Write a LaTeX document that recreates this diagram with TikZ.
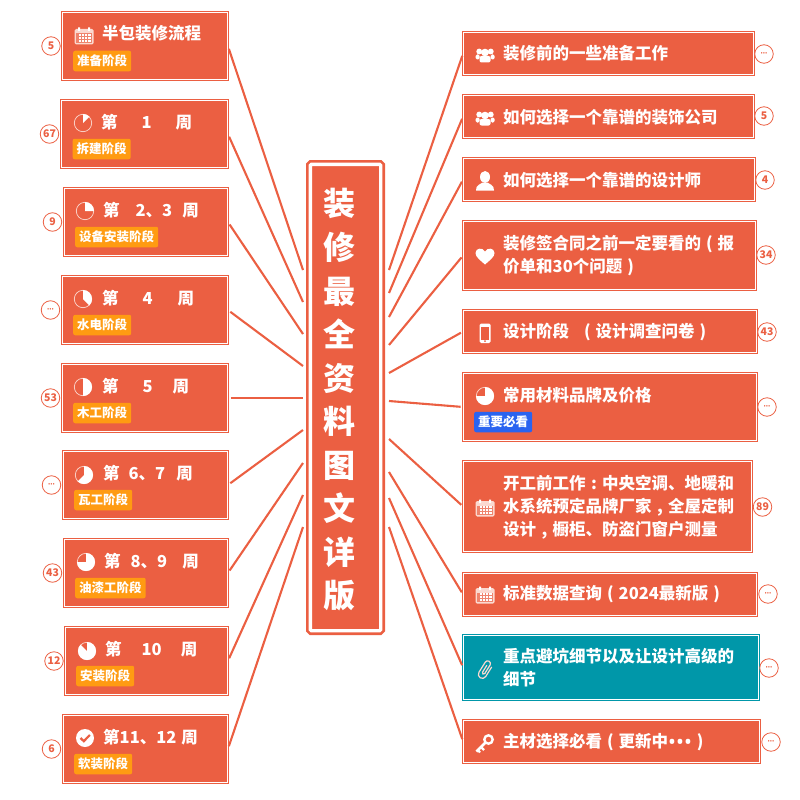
\documentclass[tikz,border=0pt]{standalone}
\usepackage{fontspec}
\setmainfont{Noto Sans CJK SC}
\newfontfamily\latfont{Noto Sans}
\usetikzlibrary{positioning}
\definecolor{boxred}{HTML}{EB5F42}
\definecolor{boxteal}{HTML}{0097A9}
\definecolor{tagorange}{HTML}{FF9B12}
\definecolor{tagblue}{HTML}{2A63F0}
\definecolor{iconpink}{HTML}{FBD9D0}
\newcommand{\fl}{\makebox[16.5pt]{(}}
\newcommand{\fr}{\makebox[16.5pt]{)}}
\newcommand{\fc}{\makebox[16.5pt]{,}}
\newcommand{\fm}{\makebox[16.5pt]{:}}
\newcommand{\more}{{\fontsize{6}{6}\selectfont\latfont •••}}
\tikzset{
  topic/.style 2 args={draw=boxred, double=white, double distance=1pt, line width=.6pt, fill=boxred,
    inner sep=0pt, outer sep=0pt, minimum width=#1pt-2.2pt, minimum height=#2pt-2.2pt},
  tealtopic/.style 2 args={topic={#1}{#2}, draw=boxteal, fill=boxteal},
  hub/.style={draw=boxred, double=white, double distance=3.3pt, line width=2.7pt, fill=boxred,
    rounded corners=1pt, inner sep=0pt, outer sep=0pt, minimum width=70.3pt, minimum height=466.3pt},
  hubtext/.style={inner sep=0pt, text=white, align=center, font=\fontsize{32}{43.55}\selectfont\bfseries},
  title/.style={anchor=west, inner sep=0pt, text=white, align=left,
    font=\fontsize{16.5}{23}\selectfont\bfseries},
  tag/.style={fill=tagorange, rounded corners=2pt, inner sep=0pt, minimum height=20.5pt, minimum width=58pt,
    anchor=west, text=white, font=\fontsize{12.5}{14}\selectfont\bfseries},
  badge/.style={circle, draw=boxred, fill=white, line width=.8pt, inner sep=0pt, minimum size=18.5pt,
    text=boxred, font=\fontsize{10.5}{11}\selectfont\bfseries},
  link/.style={draw=boxred, line width=2.1pt},
  pieicon/.pic={
    \begin{scope}[y=1pt]
      \draw[iconpink, line width=.7pt] (0,0) circle[radius=8.7pt];
      \fill[white] (0,0) -- (0,9) arc[start angle=90, delta angle=-#1, radius=9pt] -- cycle;
    \end{scope}},
  calicon/.pic={
    \begin{scope}[y=1pt]
      \fill[iconpink, rounded corners=1.5pt] (-9.5,-8.5) rectangle (9.5,7);
      \fill[boxred!70!iconpink] (-8,-7) rectangle (8,2.5);
      \foreach \cx in {-5.5,-2.2,1.1,4.4}
        \foreach \cy in {-6,-3,0}
          \fill[white] (\cx,\cy) rectangle +(2.2,2);
      \fill[white] (-6,5) rectangle (-4,8.5) (4,5) rectangle (6,8.5);
    \end{scope}},
  usersicon/.pic={
    \begin{scope}[y=1pt]
      \fill[white] (0,2.5) circle[radius=3.8pt] (-5.8,3.5) circle[radius=2.9pt] (5.8,3.5) circle[radius=2.9pt];
      \fill[white, rounded corners=2pt] (-5.5,-7.5) rectangle (5.5,-1);
      \fill[white, rounded corners=1.5pt] (-9.5,-4.5) rectangle (-5.5,.5) (5.5,-4.5) rectangle (9.5,.5);
    \end{scope}},
  personicon/.pic={
    \begin{scope}[y=1pt]
      \fill[white] (0,4) ellipse[x radius=5pt, y radius=6pt];
      \fill[white] (-9,-9.5) .. controls (-9.5,-4) and (-4,-3) .. (-2.5,-1.5) -- (2.5,-1.5)
        .. controls (4,-3) and (9.5,-4) .. (9,-9.5) -- cycle;
    \end{scope}},
  hearticon/.pic={
    \begin{scope}[y=1pt]
      \fill[white] (0,-8.5) .. controls (-5,-4) and (-9.5,-1) .. (-9.5,3)
        .. controls (-9.5,8) and (-2.5,9) .. (0,4.5)
        .. controls (2.5,9) and (9.5,8) .. (9.5,3)
        .. controls (9.5,-1) and (5,-4) .. (0,-8.5) -- cycle;
    \end{scope}},
  phoneicon/.pic={
    \begin{scope}[y=1pt]
      \fill[white, rounded corners=1.5pt] (-5.5,-10) rectangle (5.5,9.5);
      \fill[boxred] (-3.8,-6.5) rectangle (3.8,6.5);
      \fill[boxred] (0,-8.2) circle[radius=1pt];
    \end{scope}},
  clipicon/.pic={
    \begin{scope}[y=1pt, rotate=-32]
      \draw[iconpink, line width=1.2pt, line cap=round] (2.2,-4) -- (2.2,6) arc[start angle=0, end angle=180, radius=2.8pt]
        -- (-3.4,-6) arc[start angle=180, end angle=360, radius=4pt] -- (4.6,5);
      \draw[iconpink, line width=1.2pt, line cap=round] (2.2,-4) arc[start angle=0, end angle=-180, radius=1.3pt] -- (-.4,4);
    \end{scope}},
  keyicon/.pic={
    \begin{scope}[y=1pt]
      \draw[white, line width=2.4pt] (3.5,3.5) circle[radius=4.2pt];
      \draw[white, line width=2.6pt] (.5,.5) -- (-8.5,-8.5);
      \draw[white, line width=2.2pt] (-4,-4) -- (-1,-7) (-7,-7) -- (-5,-9.5);
    \end{scope}},
  checkicon/.pic={
    \begin{scope}[y=1pt]
      \fill[white] (0,0) circle[radius=9pt];
      \draw[boxred, line width=2.2pt] (-4.5,0) -- (-1.2,-3.2) -- (4.8,3);
    \end{scope}}
}
\begin{document}
\begin{tikzpicture}[x=1pt, y=-1pt]
  \useasboundingbox (0,0) rectangle (800,800);
  \node[hub] (hub) at (345.5,397.5) {};
  \node[hubtext] (hubtitle) at (339.5,400) {装\\修\\最\\全\\资\\料\\图\\文\\详\\版};

  % left side
  \node[topic={168}{70}] (lbox1) at (145,46) {};
  \node[topic={169}{70}] (lbox2) at (144.5,134) {};
  \node[topic={166}{70}] (lbox3) at (146,222) {};
  \node[topic={168}{70}] (lbox4) at (145,310) {};
  \node[topic={168}{70}] (lbox5) at (145,398) {};
  \node[topic={167}{70}] (lbox6) at (145.5,485) {};
  \node[topic={166}{70}] (lbox7) at (146,573) {};
  \node[topic={165}{70}] (lbox8) at (146.5,661) {};
  \node[topic={167}{70}] (lbox9) at (145.5,749) {};

  \node[title] (ltitle1) at (102,33.5) {半包装修流程};
  \node[title] (ltitle2) at (101,122.5) {第\hspace{24pt}1\hspace{24pt}周};
  \node[title] (ltitle3) at (103,210.5) {第\hspace{16pt}2、3\hspace{10pt}周};
  \node[title] (ltitle4) at (102,298.5) {第\hspace{24pt}4\hspace{25pt}周};
  \node[title] (ltitle5) at (102,386.5) {第\hspace{24pt}5\hspace{20pt}周};
  \node[title] (ltitle6) at (103,473.5) {第\hspace{9pt}6、7\hspace{11pt}周};
  \node[title] (ltitle7) at (104,561.5) {第\hspace{10pt}8、9\hspace{15pt}周};
  \node[title] (ltitle8) at (105,649.5) {第\hspace{20pt}10\hspace{19pt}周};
  \node[title] (ltitle9) at (103,737.5) {第11、12\hspace{5pt}周};

  \node[tag] (ltag1) at (73,61) {准备阶段};
  \node[tag] (ltag2) at (72.5,149) {拆建阶段};
  \node[tag, minimum width=83pt] (ltag3) at (75,237) {设备安装阶段};
  \node[tag] (ltag4) at (73,325) {水电阶段};
  \node[tag] (ltag5) at (73,413) {木工阶段};
  \node[tag] (ltag6) at (74,500) {瓦工阶段};
  \node[tag, minimum width=70.5pt] (ltag7) at (75,588) {油漆工阶段};
  \node[tag] (ltag8) at (76,676) {安装阶段};
  \node[tag] (ltag9) at (74,764) {软装阶段};

  \node[badge] (lnum1) at (51,46) {5};
  \node[badge] (lnum2) at (49.5,134) {67};
  \node[badge] (lnum3) at (52.5,222) {9};
  \node[badge] (lnum4) at (50.5,310) {\more};
  \node[badge] (lnum5) at (50.5,398) {53};
  \node[badge] (lnum6) at (51.5,485) {\more};
  \node[badge] (lnum7) at (52.5,573) {43};
  \node[badge] (lnum8) at (54,661) {12};
  \node[badge] (lnum9) at (51.5,749) {6};

  \pic at (84,36) {calicon};
  \pic at (83,123) {pieicon=45};
  \pic at (85,211) {pieicon=90};
  \pic at (83,299) {pieicon=135};
  \pic at (83,387) {pieicon=180};
  \pic at (84,475) {pieicon=225};
  \pic at (86,562) {pieicon=270};
  \pic at (87,651) {pieicon=315};
  \pic at (85,738) {checkicon};

  % right side
  \node[topic={293}{45}] (rbox1) at (608.5,53.5) {};
  \node[topic={293}{45}] (rbox2) at (608.5,116.5) {};
  \node[topic={294}{45}] (rbox3) at (609,179.5) {};
  \node[topic={295}{71}] (rbox4) at (609.5,255.5) {};
  \node[topic={296}{45}] (rbox5) at (610,331.5) {};
  \node[topic={296}{70}] (rbox6) at (610,407) {};
  \node[topic={291}{93}] (rbox7) at (607.5,506.5) {};
  \node[topic={296}{45}] (rbox8) at (610,594.5) {};
  \node[tealtopic={298}{67}] (rbox9) at (611,667.5) {};
  \node[topic={299}{45}] (rbox10) at (611.5,741.5) {};

  \node[title] (rtitle1) at (503,53.5) {装修前的一些准备工作};
  \node[title] (rtitle2) at (503,117.5) {如何选择一个靠谱的装饰公司};
  \node[title] (rtitle3) at (503,180.5) {如何选择一个靠谱的设计师};
  \node[title] (rtitle4) at (503,255.5) {装修签合同之前一定要看的\fl 报\\价单和30个问题\fr};
  \node[title] (rtitle5) at (503,332) {设计阶段\hspace{10pt}\fl 设计调查问卷\fr};
  \node[title] (rtitle6) at (503,395.5) {常用材料品牌及价格};
  \node[title] (rtitle7) at (503,507.5) {开工前工作\fm 中央空调、地暖和\\水系统预定品牌厂家\fc 全屋定制\\设计\fc 橱柜、防盗门窗户测量};
  \node[title] (rtitle8) at (503,594.5) {标准数据查询\fl 2024最新版\fr};
  \node[title] (rtitle9) at (503,667.5) {重点避坑细节以及让设计高级的\\细节};
  \node[title] (rtitle10) at (503,742.5) {主材选择必看\fl 更新中\raisebox{-1.5pt}[0pt][0pt]{\fontsize{21}{21}\selectfont\latfont •••}\fr};

  \node[tag, fill=tagblue] (rtag6) at (474,422) {重要必看};

  \node[badge] (rnum1) at (764,54) {\more};
  \node[badge] (rnum2) at (764,116) {5};
  \node[badge] (rnum3) at (765,180) {4};
  \node[badge] (rnum4) at (766,255) {34};
  \node[badge] (rnum5) at (767,332) {43};
  \node[badge] (rnum6) at (767,407) {\more};
  \node[badge] (rnum7) at (762.5,507) {89};
  \node[badge] (rnum8) at (768,594) {\more};
  \node[badge] (rnum9) at (769,668) {\more};
  \node[badge] (rnum10) at (771,742) {\more};

  \pic at (485,55) {usersicon};
  \pic at (485,118) {usersicon};
  \pic at (485,181) {personicon};
  \pic at (485,256) {hearticon};
  \pic at (485,333) {phoneicon};
  \pic at (485,396) {pieicon=270};
  \pic at (485,508) {calicon};
  \pic at (485,595) {calicon};
  \pic at (485,669) {clipicon};
  \pic at (485,743) {keyicon};

  % connectors
  \foreach \i/\y in {1/270,2/302,3/334,4/366,5/398,6/430,7/463,8/495,9/527}{
    \coordinate (lfree\i) at (303,\y);
    \draw[link, shorten <=3pt] (lbox\i.east) -- (lfree\i);
  }
  \foreach \i/\y in {1/270,2/293,3/317,4/345,5/373,6/401,7/439,8/472,9/498,10/527}{
    \coordinate (rfree\i) at (389,\y);
    \draw[link, shorten >=2.5pt] (rfree\i) -- (rbox\i.west);
  }
\end{tikzpicture}
\end{document}
